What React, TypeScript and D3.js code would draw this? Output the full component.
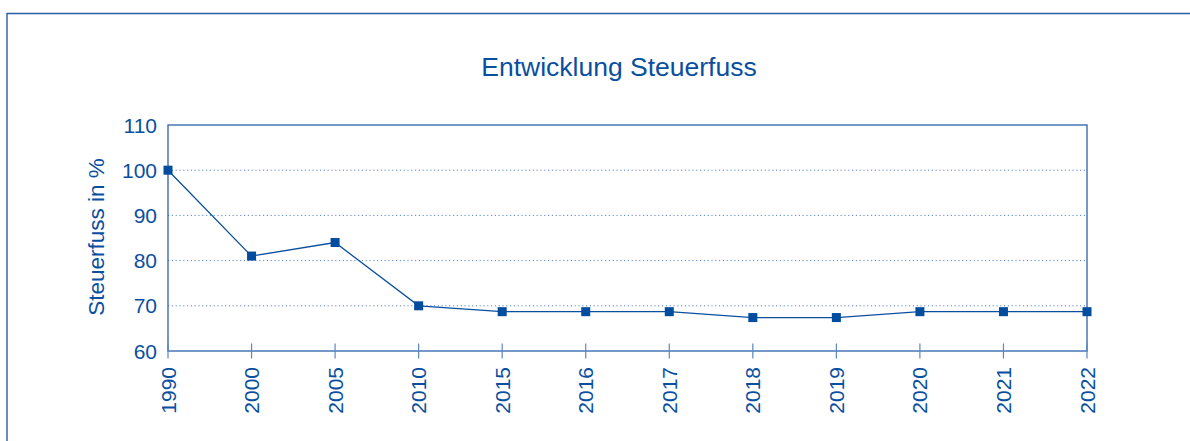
import React from 'react'
import * as d3 from 'd3'

// data
const years = ['1990', '2000', '2005', '2010', '2015', '2016', '2017', '2018', '2019', '2020', '2021', '2022']
const steuerfuss = [100, 81, 84, 70, 68.7, 68.7, 68.7, 67.4, 67.4, 68.7, 68.7, 68.7]
const yTicks = [60, 70, 80, 90, 100, 110]
const gridValues = [70, 80, 90, 100]

const title = 'Entwicklung Steuerfuss'
const yTitle = 'Steuerfuss in %'

const W = 1190
const H = 441
const margin = { top: 125, right: 103, bottom: 90, left: 168 }
const blue = '#0a4f9f'
const font = 'Liberation Sans, Arial, Helvetica, sans-serif'

export default function App() {
  const plotW = W - margin.left - margin.right
  const plotH = H - margin.top - margin.bottom

  const x = d3.scalePoint<string>().domain(years).range([0, plotW])
  const y = d3.scaleLinear().domain([60, 110]).range([plotH, 0])

  const line = d3.line<number>()
    .x((_, i) => x(years[i]) as number)
    .y(d => y(d))

  return (
    <svg width={W} height={H} style={{ position: 'absolute', left: 0, top: 0, background: '#fff' }}
      fontFamily={font}>
      {/* outer frame, runs off the right and bottom edges */}
      <path d={`M7,${H + 5}V13.5H${W + 5}`} fill="none" stroke="#285ea6" strokeWidth={1.4} />

      <text x={619} y={76} textAnchor="middle" fontSize={26.5} fill={blue}>{title}</text>

      <g transform={`translate(${margin.left},${margin.top})`}>
        {gridValues.map(v => (
          <line key={v} x1={0} x2={plotW} y1={y(v)} y2={y(v)}
            stroke="#5a86c6" strokeWidth={1} strokeDasharray="1.2 2.6" />
        ))}

        {/* plot border */}
        <rect x={0} y={0} width={plotW} height={plotH} fill="none" stroke="#2a62aa" strokeWidth={1.3} />

        {/* x ticks */}
        {years.map(yr => (
          <line key={yr} x1={x(yr)} x2={x(yr)} y1={plotH - 7.5} y2={plotH + 7.5}
            stroke="#5a86c6" strokeWidth={1.2} />
        ))}

        {yTicks.map(v => (
          <text key={v} x={-11} y={y(v)} dy="0.36em" textAnchor="end" fontSize={21} fill={blue}>{v}</text>
        ))}

        {years.map(yr => (
          <text key={yr} transform={`translate(${x(yr)},${plotH + 16}) rotate(-90)`}
            dy="0.36em" textAnchor="end" fontSize={21} fill={blue}>{yr}</text>
        ))}

        <path d={line(steuerfuss) || ''} fill="none" stroke={blue} strokeWidth={1.3} />

        {steuerfuss.map((v, i) => (
          <rect key={years[i]} x={(x(years[i]) as number) - 4.5} y={y(v) - 4.5} width={9} height={9} fill="#004d9f" />
        ))}
      </g>

      <text transform={`translate(96,237) rotate(-90)`} dy="0.36em" textAnchor="middle"
        fontSize={22.5} fill={blue}>{yTitle}</text>
    </svg>
  )
}
